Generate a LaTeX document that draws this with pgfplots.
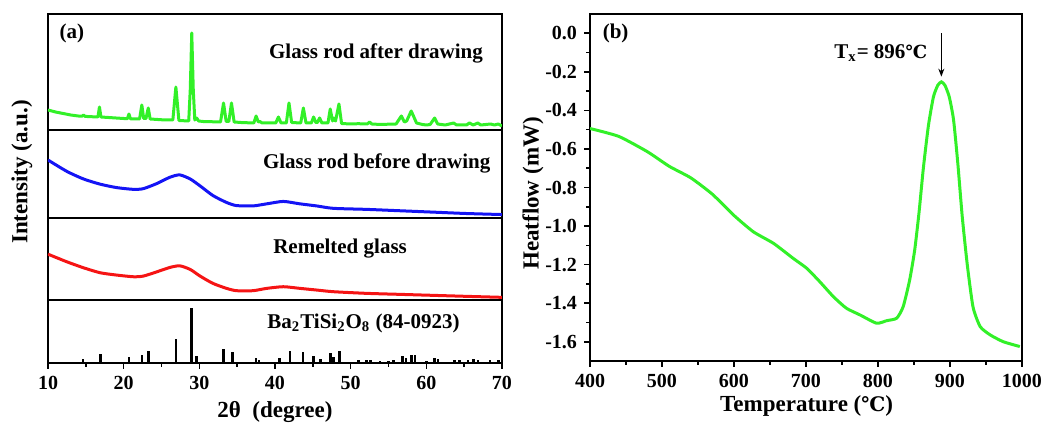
\documentclass[border=0pt]{standalone}
\usepackage{fontspec}
\setmainfont{Liberation Serif}
\newfontfamily\dejavu{DejaVu Serif}
\usepackage{pgfplots}
\pgfplotsset{compat=1.18}
\usetikzlibrary{arrows.meta}
\definecolor{xgreen}{RGB}{50,240,40}
\definecolor{xblue}{RGB}{20,20,245}
\definecolor{xred}{RGB}{245,20,20}
\newcommand{\degC}[1]{{\dejavu\bfseries\fontsize{#1}{#1}\selectfont ℃}}
\begin{document}
\begin{tikzpicture}[x=1pt,y=1pt]
\useasboundingbox (0,0) rectangle (531,211.5);
\pgfplotsset{
  every axis/.append style={
    anchor=south west, scale only axis,
    axis line style={line width=0.9pt},
    every tick/.style={black, line width=0.8pt},
    major tick length=3pt, minor tick length=1.8pt,
    tick align=outside,
    tick label style={font=\fontsize{10}{12}\selectfont\bfseries},
    /pgf/number format/assume math mode=true,
    /pgf/number format/set thousands separator={},
  },
  strip/.style={width=227pt, xmin=10, xmax=70, ytick=\empty, xtick=\empty, clip=true},
}
% ---- strip 1: glass rod after drawing
\begin{axis}[strip, at={(24pt,146.5pt)}, height=58pt, ymin=0, ymax=116]
\addplot[xgreen, line width=1.5pt, line join=round] coordinates {
(10,20) (11,18) (12,16.5) (13,15) (14,14) (14.5,13.8) (14.7,15) (14.9,13.6) (16,13.2) (16.6,13) (16.8,23) (17.0,13)
(18,12.5) (19,12) (20,11.5) (20.5,11.3) (20.7,16) (20.9,11.2) (22.1,11) (22.4,25) (22.65,11.5) (22.95,11.5) (23.25,22) (23.5,11)
(24.5,10.5) (25.5,10) (26.5,10) (26.9,43) (27.3,9.5) (28.6,9) (28.8,40) (29.0,97) (29.2,40) (29.4,10) (29.65,12) (29.9,9)
(30.5,8.5) (31.5,8.3) (32.8,8) (33.2,27) (33.55,8.5) (33.9,8.5) (34.25,27) (34.6,8) (35.5,7.5) (37.2,7) (37.5,14) (37.8,8)
(38,8.5) (38.3,7) (39,7) (40.1,7) (40.45,13) (40.8,7) (41.5,7) (41.85,27) (42.2,7.5) (43.4,7) (43.75,22) (44.1,7) (44.8,7)
(45.1,13) (45.4,7.5) (45.6,7.5) (45.9,12) (46.2,7) (47,7) (47.3,21) (47.6,9) (47.75,12) (48,9) (48.45,26) (48.8,6.5) (50,6)
(51,6.3) (52.2,6) (52.5,8) (52.8,6) (54,5.5) (55,5.8) (56,6) (56.7,14) (57.1,8) (57.4,9) (58.0,19) (58.3,14) (58.7,7)
(59.5,5.5) (60,5) (60.5,5.5) (61.1,12) (61.5,6) (62.5,5) (63.6,7) (64,5) (65.3,5) (65.7,7) (66.2,5) (66.8,7) (67.2,5)
(68.5,6) (69,5) (69.5,6) (70,4)};
\node[anchor=west, font=\fontsize{10.5}{12}\selectfont\bfseries] at (axis cs:10.6,97) {(a)};
\node[anchor=east, font=\fontsize{10.5}{12}\selectfont\bfseries] at (axis cs:68.4,77) {Glass rod after drawing};
\end{axis}
% ---- strip 2: glass rod before drawing
\begin{axis}[strip, at={(24pt,102.5pt)}, height=44pt, ymin=0, ymax=255]
\addplot[xblue, line width=1.5pt, smooth, tension=0.4] coordinates {
(10,168) (12.5,135) (14.7,113) (16.9,98) (19.1,88) (21.3,83) (22.6,85) (24.4,100) (26.1,118) (27.4,125) (28.8,113)
(30.1,93) (31.8,65) (33.6,45) (34.9,36) (37.1,35) (38.9,41) (41.1,48) (43.3,41) (45.5,35) (47.7,28) (52.1,25)
(56.5,21) (60.9,17) (65.3,13) (70,10)};
\node[anchor=east, font=\fontsize{10.5}{12}\selectfont\bfseries] at (axis cs:69.4,158) {Glass rod before drawing};
\end{axis}
% ---- strip 3: remelted glass
\begin{axis}[strip, at={(24pt,61.5pt)}, height=41pt, ymin=0, ymax=247]
\addplot[xred, line width=1.5pt, smooth, tension=0.4] coordinates {
(10,138) (12.5,115) (14.7,97) (16.9,82) (19.1,75) (21.3,70) (22.6,72) (24.4,85) (26.1,98) (27.4,103) (28.8,92)
(30.1,72) (31.8,50) (33.6,35) (34.9,28) (37.1,28) (38.9,35) (41.1,40) (43.3,35) (45.5,30) (47.7,25) (52.1,20)
(56.5,17) (60.9,14) (65.3,11) (70,8)};
\node[font=\fontsize{10.5}{12}\selectfont\bfseries] at (axis cs:48.6,155) {Remelted glass};
\end{axis}
% ---- strip 4: reference pattern
\begin{axis}[width=227pt, xmin=10, xmax=70, ytick=\empty, at={(24pt,30pt)}, height=31.5pt, ymin=0, ymax=188,
  xtick={10,20,...,70}, minor x tick num=1, xtick pos=bottom]
\addplot[ycomb, black, line width=1.3pt] coordinates {
(14.6,13) (16.9,28) (20.7,18) (22.4,23) (23.25,35) (26.9,71) (29.0,165) (29.65,20) (33.2,43) (34.35,33) (37.5,16)
(37.9,10) (40.6,15) (42.0,36) (43.7,32) (45.1,20) (46.0,13) (47.3,30) (47.7,18) (48.5,35) (51.0,8) (52.1,8) (52.65,8)
(53.9,6) (55.0,6) (55.65,10) (56.85,20) (57.3,16) (58.05,23) (58.5,23) (60.0,6) (61.1,15) (61.55,11) (63.75,10)
(64.4,10) (65.5,10) (66.2,13) (66.85,10) (68.4,10) (69.5,10)};
\node[font=\fontsize{10.5}{12}\selectfont\bfseries] at (axis cs:51.7,118) {Ba\textsubscript{2}TiSi\textsubscript{2}O\textsubscript{8} (84-0923)};
\end{axis}
\node[rotate=90, font=\fontsize{11.5}{13}\selectfont\bfseries] at (11,125.5) {Intensity (a.u.)};
\node[font=\fontsize{11.5}{13}\selectfont\bfseries] at (137.5,5.5) {2θ\ \ (degree)};
% ---- panel b
\begin{axis}[at={(295pt,31pt)}, width=216pt, height=173.5pt,
  xmin=400, xmax=1000, ymin=-1.7, ymax=0.1,
  xtick={400,500,...,1000}, minor x tick num=1,
  ytick={-1.6,-1.4,...,0.01}, minor y tick num=1,
  xtick pos=bottom, ytick pos=left,
  yticklabel style={/pgf/number format/.cd, fixed, fixed zerofill, precision=1}]
\addplot[xgreen, line width=1.5pt, smooth, tension=0.35] coordinates {
(400,-0.494) (440,-0.535) (480,-0.615) (510,-0.690) (540,-0.750) (570,-0.835) (600,-0.945) (627,-1.030) (655,-1.090)
(682,-1.167) (701,-1.219) (719,-1.288) (738,-1.366) (756,-1.426) (775,-1.461) (798,-1.504) (812,-1.491) (826,-1.478)
(835,-1.418) (844,-1.280) (851,-1.124) (857,-0.93) (863,-0.70) (870,-0.48) (877,-0.33) (883,-0.27) (888,-0.252)
(893,-0.27) (899,-0.33) (905,-0.45) (911,-0.68) (917,-0.95) (924,-1.20) (932,-1.42) (942,-1.522) (956,-1.565)
(974,-1.600) (997,-1.625)};
\draw[-{Stealth[length=4pt,width=3pt]}, line width=0.8pt] (axis cs:888,0.0) -- (axis cs:888,-0.225);
\node[anchor=east, font=\fontsize{10.5}{12}\selectfont\bfseries] at (axis cs:878,-0.104) {T\textsubscript{x}= 896\degC{9}};
\node[anchor=west, font=\fontsize{10.5}{12}\selectfont\bfseries] at (axis cs:408,0.0) {(b)};
\end{axis}
\node[rotate=90, font=\fontsize{11.5}{13}\selectfont\bfseries] at (266.5,114.75) {Heatflow (mW)};
\node[font=\fontsize{11.5}{13}\selectfont\bfseries] at (403.3,8.5) {Temperature (\degC{10})};
\end{tikzpicture}
\end{document}
